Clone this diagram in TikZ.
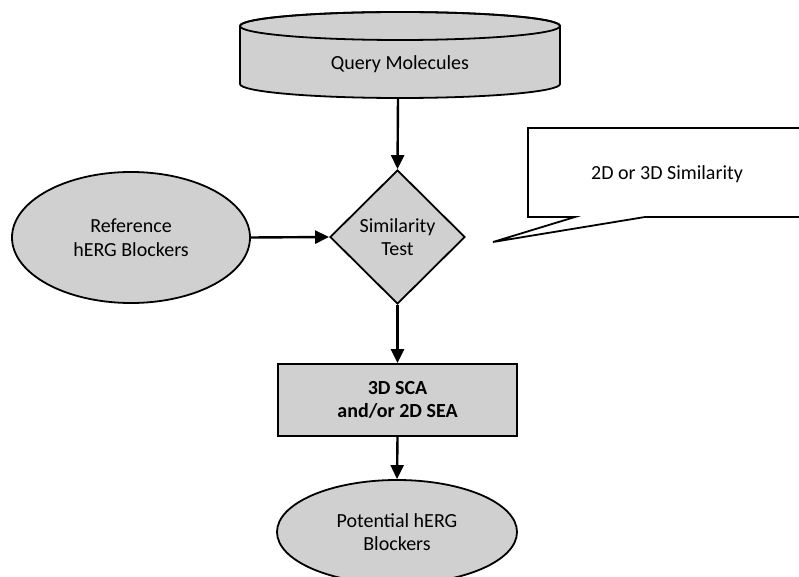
\documentclass[tikz,border=0pt]{standalone}
\usepackage{fontspec}
\setmainfont{Carlito}
\usetikzlibrary{shapes.geometric,arrows.meta}
\definecolor{boxgray}{RGB}{208,208,208}
\tikzset{
  shapeline/.style={draw=black,line width=1.8pt,fill=boxgray},
  lbl/.style={font=\fontsize{20}{23.5}\selectfont,align=center,text=black},
  flow/.style={line width=2.4pt,-{Triangle[length=14pt,width=13pt]}},
}
\begin{document}
\begin{tikzpicture}[x=1pt,y=-1pt]
\useasboundingbox (0,0) rectangle (799,577);
\clip (0,0) rectangle (799,577);
% cylinder
\path[shapeline] (240,26) -- (240,84) arc[start angle=180,end angle=0,x radius=160,y radius=14] -- (560,26) arc[start angle=0,end angle=-180,x radius=160,y radius=14] -- cycle;
\draw[line width=1.8pt] (240,26) arc[start angle=180,end angle=-180,x radius=160,y radius=14];
\node[lbl] (qm) at (400,64) {Query Molecules};
\coordinate (qmb) at (398,98);
% diamond
\node[shapeline,diamond,minimum width=135pt,minimum height=134pt,inner sep=0pt,lbl] (st) at (397.5,237) {Similarity\\Test};
% reference ellipse
\node[shapeline,ellipse,minimum width=238pt,minimum height=131pt,inner sep=0pt,lbl] (ref) at (131,237.5) {Reference\\hERG Blockers};
% rectangle
\node[shapeline,rectangle,minimum width=239pt,minimum height=72pt,inner sep=0pt,lbl,font=\fontsize{20}{23.5}\selectfont\bfseries] (sca) at (397.5,400) {3D SCA\\and/or 2D SEA};
% potential ellipse
\node[shapeline,ellipse,minimum width=240pt,minimum height=104pt,inner sep=0pt,lbl] (pot) at (397,532) {Potential hERG\\Blockers};
% callout
\draw[line width=1.8pt,fill=white] (528,128) -- (810,128) -- (810,217) -- (645,217) -- (493,242) -- (575,217) -- (528,217) -- cycle;
\node[lbl] (cal) at (667,174) {2D or 3D Similarity};
% connectors
\draw[flow] (qmb) -- (st.north);
\draw[flow] (ref.east) -- (st.west);
\draw[flow] (st.south) -- (sca.north);
\draw[flow] (sca.south) -- (pot.north);
\end{tikzpicture}
\end{document}
